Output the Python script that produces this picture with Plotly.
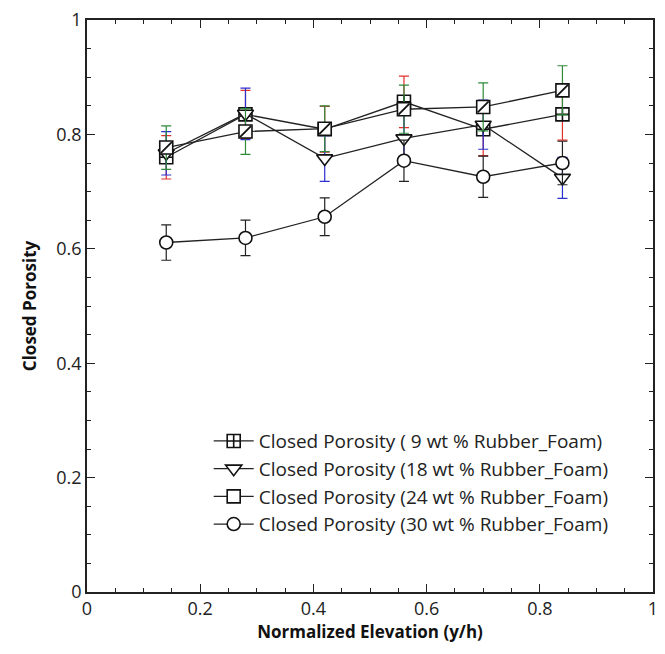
import plotly.graph_objects as go

x = [0.14, 0.28, 0.42, 0.56, 0.70, 0.84]

names = ["Closed Porosity ( 9 wt % Rubber_Foam)",
         "Closed Porosity (18 wt % Rubber_Foam)",
         "Closed Porosity (24 wt % Rubber_Foam)",
         "Closed Porosity (30 wt % Rubber_Foam)"]

y9 = [0.760, 0.835, 0.809, 0.857, 0.809, 0.835]
e9 = [0.038, 0.042, 0.040, 0.045, 0.046, 0.045]
y18 = [0.767, 0.836, 0.758, 0.793, 0.817, 0.724]
e18 = [0.038, 0.045, 0.040, 0.040, 0.043, 0.036]
y24 = [0.777, 0.805, 0.810, 0.844, 0.848, 0.877]
e24 = [0.038, 0.040, 0.040, 0.042, 0.042, 0.043]
y30 = [0.611, 0.619, 0.656, 0.754, 0.726, 0.750]
e30 = [0.031, 0.031, 0.033, 0.036, 0.036, 0.038]

err_colors = ["#e0312c", "#2a2fd0", "#2f8a3a", "#222222"]
symbols = ["square-cross", "triangle-down", "square", "circle"]
ys = [y9, y18, y24, y30]
es = [e9, e18, e24, e30]

FONT = "Open Sans"

fig = go.Figure()
for n, yv, ev, c, s in zip(names, ys, es, err_colors, symbols):
    fig.add_trace(go.Scatter(
        x=x, y=yv, name=n, mode="lines+markers",
        line=dict(color="#222222", width=1.3),
        marker=dict(symbol=s, size=13 if s != "triangle-down" else 14,
                    color="white", line=dict(color="#111111", width=1.6)),
        error_y=dict(type="data", array=ev, color=c, thickness=1.2, width=5),
    ))

# diagonal stroke inside the 24 wt % squares
fig.add_trace(go.Scatter(
    x=x, y=y24, mode="markers", showlegend=False, hoverinfo="skip",
    marker=dict(symbol="line-ne", size=11, line=dict(color="#111111", width=1.8)),
))

axis_common = dict(
    showline=True, linecolor="#222222", linewidth=1.5, mirror="allticks",
    ticks="inside", ticklen=8, tickwidth=1.2, tickcolor="#222222",
    showgrid=False, zeroline=False,
    tickfont=dict(family=FONT, size=18, color="#222222"),
    minor=dict(ticks="inside", ticklen=4, tickwidth=1, tickcolor="#222222", dtick=0.05, showgrid=False),
)

fig.update_layout(
    width=665, height=654,
    margin=dict(l=87, r=7, t=19, b=62),
    paper_bgcolor="white", plot_bgcolor="white",
    xaxis=dict(range=[0, 1], tickvals=[0, 0.2, 0.4, 0.6, 0.8, 1],
               ticktext=["0", "0.2", "0.4", "0.6", "0.8", "1"],
               title=dict(text="<b>Normalized Elevation (y/h)</b>", standoff=0,
                          font=dict(family=FONT, size=17, color="#111111")),
               **axis_common),
    yaxis=dict(range=[0, 1], tickvals=[0, 0.2, 0.4, 0.6, 0.8, 1],
               ticktext=["0", "0.2", "0.4", "0.6", "0.8", "1"],
               title=dict(text="<b>Closed Porosity</b>", standoff=15,
                          font=dict(family=FONT, size=17, color="#111111")),
               **axis_common),
    legend=dict(x=0.215, y=0.297, xanchor="left", yanchor="top",
                bgcolor="rgba(0,0,0,0)", borderwidth=0,
                font=dict(family=FONT, size=19, color="#222222"),
                tracegroupgap=0, itemwidth=40),
    showlegend=True,
)

fig.write_html("out.html")
